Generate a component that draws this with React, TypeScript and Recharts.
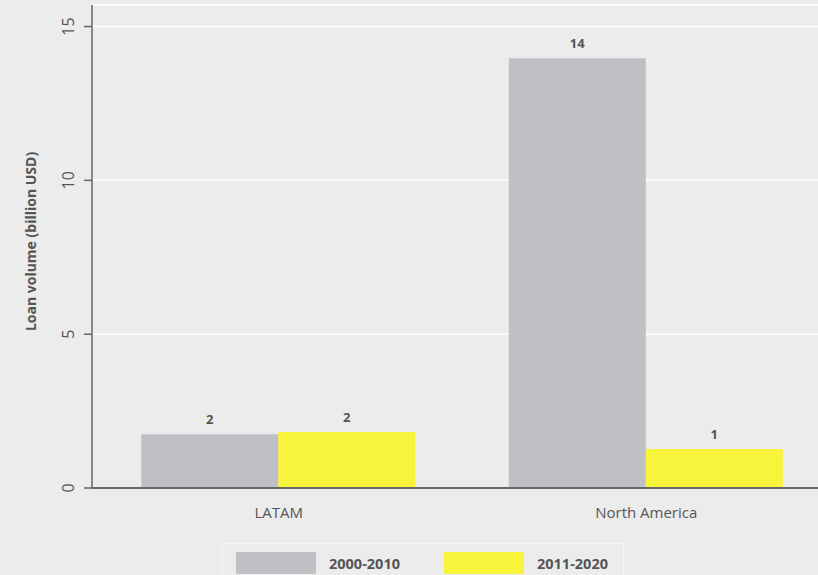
import React from "react";
import { BarChart, Bar, XAxis, YAxis, CartesianGrid, LabelList } from "recharts";

// Loan volume by region, two decades
const regions = ["LATAM", "North America"];
const decade1 = [1.75, 13.97]; // 2000-2010
const decade2 = [1.82, 1.27]; // 2011-2020
const yTicks = [0, 5, 10, 15];

const GRAY = "#bfc0c3";
const YELLOW = "#f8f43c";
const TEXT = "#555555";
const FONT = "'Open Sans', sans-serif";

const data = regions.map((region, i) => ({ region, d1: decade1[i], d2: decade2[i] }));

const YTick = ({ x, y, payload }: any) => (
  <text
    x={x}
    y={y}
    transform={`rotate(-90, ${x}, ${y})`}
    textAnchor="middle"
    dominantBaseline="central"
    fill={TEXT}
    fontSize={16}
    fontFamily={FONT}
  >
    {payload.value}
  </text>
);

const YTitle = ({ viewBox }: any) => {
  const cx = viewBox.x + 30;
  const cy = viewBox.y + viewBox.height / 2 - 5;
  return (
    <text
      x={cx}
      y={cy}
      transform={`rotate(-90, ${cx}, ${cy})`}
      textAnchor="middle"
      dominantBaseline="central"
      fill={TEXT}
      fontSize={14}
      fontWeight={700}
      fontFamily={FONT}
    >
      Loan volume (billion USD)
    </text>
  );
};

const legendItems = [
  { name: "2000-2010", color: GRAY },
  { name: "2011-2020", color: YELLOW },
];

export default function App() {
  return (
    <div
      style={{
        position: "absolute",
        left: 0,
        top: 0,
        width: 818,
        height: 575,
        overflow: "hidden",
        background: "#ececec",
        fontFamily: FONT,
      }}
    >
      <BarChart
        width={830}
        height={575}
        data={data}
        margin={{ top: 5, right: 0, bottom: 0, left: 0 }}
        barCategoryGap="12.6%"
        barGap={0}
      >
        <CartesianGrid vertical={false} stroke="#ffffff" strokeWidth={1.5} />
        <XAxis
          dataKey="region"
          height={87}
          padding={{ left: 3, right: 0 }}
          axisLine={{ stroke: "#666666", strokeWidth: 2 }}
          tickLine={false}
          tick={{ fill: TEXT, fontSize: 15, fontFamily: FONT, dy: 11 }}
        />
        <YAxis
          width={92}
          domain={[0, 15.7]}
          ticks={yTicks}
          axisLine={{ stroke: "#666666", strokeWidth: 1.5 }}
          tickLine={{ stroke: "#666666", strokeWidth: 1.5 }}
          tickSize={8}
          tickMargin={16}
          tick={<YTick />}
          label={<YTitle />}
        />
        <Bar dataKey="d1" name="2000-2010" fill={GRAY} isAnimationActive={false}>
          <LabelList
            dataKey="d1"
            position="top"
            offset={10}
            formatter={(v: any) => Math.round(Number(v))}
            style={{ fill: TEXT, fontSize: 13, fontWeight: 700, fontFamily: FONT }}
          />
        </Bar>
        <Bar dataKey="d2" name="2011-2020" fill={YELLOW} isAnimationActive={false}>
          <LabelList
            dataKey="d2"
            position="top"
            offset={10}
            formatter={(v: any) => Math.round(Number(v))}
            style={{ fill: TEXT, fontSize: 13, fontWeight: 700, fontFamily: FONT }}
          />
        </Bar>
      </BarChart>
      <div
        style={{
          position: "absolute",
          left: 222,
          top: 543,
          width: 402,
          height: 40,
          border: "1px solid #f4f4f4",
          boxSizing: "border-box",
        }}
      >
        {legendItems.map((item, i) => (
          <div
            key={item.name}
            style={{ position: "absolute", left: 13, top: 8, transform: `translateX(${i * 208}px)`, display: "flex", alignItems: "center" }}
          >
            <div style={{ width: 80, height: 22, background: item.color }} />
            <span style={{ marginLeft: 13, fontSize: 14.5, fontWeight: 700, color: TEXT }}>{item.name}</span>
          </div>
        ))}
      </div>
    </div>
  );
}
